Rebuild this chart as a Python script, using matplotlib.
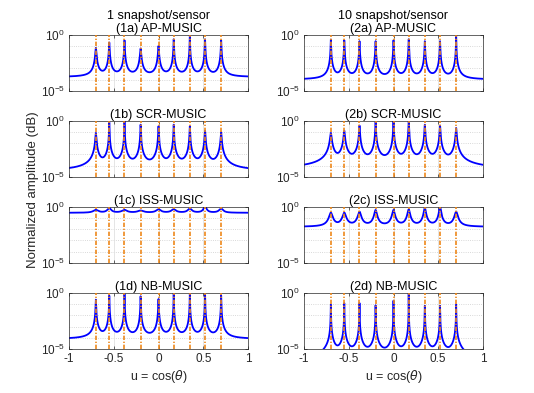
import numpy as np
import matplotlib
matplotlib.use('Agg')
import matplotlib.pyplot as plt

plt.rcParams['font.family'] = ['Liberation Sans', 'DejaVu Sans']
plt.rcParams['mathtext.fontset'] = 'dejavusans'

# true source directions (u = cos(theta))
u_src = [-0.70, -0.55, -0.38, -0.20, 0.00, 0.17, 0.35, 0.52, 0.70]

# peak levels (log10 of normalized amplitude)
pk_1a = [-1.17, -0.70, -0.50, -1.23, -1.00, -0.41, 0.00, -0.41, -0.50]
pk_1b = [-1.09, -0.15, 0.00, -0.36, -0.50, -0.36, -0.50, -0.89, -1.04]
pk_1c = [-0.30, -0.15, -0.30, -0.36, -0.24, -0.24, -0.18, 0.00, -0.18]
pk_1d = [-0.60, -0.24, -0.09, -0.30, -0.54, 0.00, -0.09, 0.00, -0.24]
pk_2a = [-0.44, -0.50, -0.58, -0.58, -0.50, -0.41, -0.58, -0.58, 0.00]
pk_2b = [-1.09, -0.89, -0.44, -0.12, 0.00, -0.06, -0.36, -0.44, -0.65]
pk_2c = [-0.54, -0.54, -0.45, -0.30, -0.30, -0.24, -0.09, 0.00, -0.45]
pk_2d = [-1.05, -0.90, -0.90, -1.10, -0.69, 0.00, -1.14, -1.14, -1.05]

# floor level far from the sources (log10) and tail scale of the peaks
floor_lv = {'1a': -3.77, '1b': -4.5, '1c': -0.55, '1d': -4.1,
            '2a': -4.0, '2b': -4.35, '2c': -1.8, '2d': -9.0}
tail = {'1a': 0.00109, '1b': 0.00116, '1c': 0.0142, '1d': 0.00093,
        '2a': 0.00095, '2b': 0.00185, '2c': 0.0084, '2d': 0.00024}

panels = [('1a', 'AP-MUSIC', pk_1a), ('2a', 'AP-MUSIC', pk_2a),
          ('1b', 'SCR-MUSIC', pk_1b), ('2b', 'SCR-MUSIC', pk_2b),
          ('1c', 'ISS-MUSIC', pk_1c), ('2c', 'ISS-MUSIC', pk_2c),
          ('1d', 'NB-MUSIC', pk_1d), ('2d', 'NB-MUSIC', pk_2d)]

u = np.linspace(-1, 1, 20001)


def spectrum(key, pk):
    fl = 10 ** floor_lv[key]
    s = tail[key]
    p = np.full_like(u, fl)
    for uk, lv in zip(u_src, pk):
        h = max(10 ** lv - fl, 1e-12)
        p += 1.0 / (1.0 / h + ((u - uk) / s) ** 2)
    return p


fig = plt.figure(figsize=(5.34, 3.93), dpi=100)
lefts = [69 / 534, 304 / 534]
bottoms = [1 - 91 / 393, 1 - 177 / 393, 1 - 263 / 393, 1 - 349.3 / 393]
aw, ah = 179 / 534, 0.1435

for i, (key, name, pk) in enumerate(panels):
    row, col = i // 2, i % 2
    ax = fig.add_axes([lefts[col], bottoms[row], aw, ah])
    ax.semilogy(u, spectrum(key, pk), color=(0, 0, 1), lw=1.3, zorder=2)
    for uk in u_src:
        ax.axvline(uk, color=(0.93, 0.53, 0.1), lw=1.2, zorder=3,
                   dashes=(2.6, 1.0, 0.8, 1.0))
    ax.set_xlim(-1, 1)
    ax.set_ylim(1e-5, 1)
    ax.set_yticks([1e-5, 1])
    ax.yaxis.set_minor_locator(matplotlib.ticker.NullLocator())
    ax.set_xticks([-1, -0.5, 0, 0.5, 1])
    for y in [1e-4, 1e-3, 1e-2, 1e-1]:
        ax.axhline(y, color='0.8', lw=0.6, ls=':', zorder=1)
    for x in [-0.5, 0, 0.5]:
        ax.axvline(x, color='0.88', lw=0.6, zorder=1)
    ax.tick_params(direction='in', length=2.5, width=0.5, labelsize=8.5,
                   colors='0.15', top=True, right=True, pad=3)
    for s in ax.spines.values():
        s.set_color('0.15')
        s.set_linewidth(0.5)
    if row < 3:
        ax.set_xticklabels([])
    else:
        ax.set_xticklabels(['-1', '-0.5', '0', '0.5', '1'])
        ax.set_xlabel(r'u = cos($\theta$)', fontsize=9, labelpad=2, color='0.15')
    ttl = '(%s) %s' % (key, name)
    if row == 0:
        ttl = ('1 snapshot/sensor' if col == 0 else '10 snapshot/sensor') + '\n' + ttl
    ax.set_title(ttl, fontsize=9, pad=2, linespacing=1.1)

fig.text(33 / 534, 1 - 190 / 393, 'Normalized amplitude (dB)', rotation=90,
         ha='center', va='center', fontsize=9.5, color='0.15')

fig.savefig('out.png', dpi=100)
